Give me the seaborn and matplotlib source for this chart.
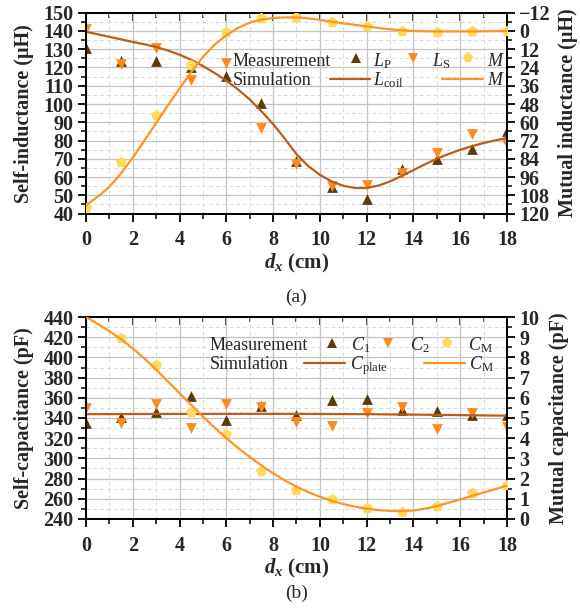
import matplotlib
matplotlib.use("Agg")
import matplotlib.pyplot as plt
from matplotlib.ticker import MultipleLocator
from matplotlib.lines import Line2D
import seaborn as sns

# ---------------- data ----------------
# measurement positions along x (cm)
dx_meas = [0, 1.5, 3, 4.5, 6, 7.5, 9, 10.5, 12, 13.5, 15, 16.5, 18]

# (a) inductances, uH
L_P = [130.5, 123.5, 123.5, 120.0, 115.3, 100.3, 69.0, 54.8, 48.0, 64.6, 69.6, 75.5, 85.0]
L_S = [140.9, 121.8, 130.8, 113.4, 122.2, 87.1, 67.4, 55.0, 55.5, 62.2, 72.9, 83.8, 78.0]
M_meas = [116.6, 85.8, 55.2, 22.2, 0.6, -8.3, -8.9, -5.9, -3.1, 0.0, 0.6, 0.0, 0.0]

# simulated curves sampled every 0.5 cm
dx_sim = [0, 0.5, 1, 1.5, 2, 2.5, 3, 3.5, 4, 4.5, 5, 5.5, 6, 6.5, 7, 7.5, 8, 8.5, 9,
          9.5, 10, 10.5, 11, 11.5, 12, 12.5, 13, 13.5, 14, 14.5, 15, 15.5, 16, 16.5,
          17, 17.5, 18]
L_coil_sim = [139.6, 138.2, 136.8, 135.4, 134.0, 132.7, 131.2, 129.3, 127.0, 124.2,
              120.8, 117.0, 112.8, 108.0, 102.5, 96.0, 89.0, 81.0, 72.5, 66.0,
              61.2, 57.6, 55.2, 54.0, 54.0, 55.3, 57.6, 60.6, 63.8, 67.0,
              70.0, 72.6, 74.9, 76.9, 78.6, 80.1, 81.4]
M_sim = [114.6, 109.0, 102.5, 93.5, 83.3, 72.0, 60.5, 49.0, 37.8, 27.0,
         17.0, 9.0, 2.8, -2.0, -5.5, -7.5, -8.5, -8.9, -8.9, -8.3,
         -7.3, -6.2, -5.0, -4.0, -3.0, -2.0, -1.1, -0.4, 0.0, 0.2,
         0.3, 0.3, 0.3, 0.3, 0.2, 0.1, 0.0]

# (b) capacitances, pF
C_1 = [335.0, 340.5, 345.5, 361.3, 338.2, 352.0, 343.1, 358.0, 359.0, 348.0, 347.0, 342.5, 343.0]
C_2 = [349.8, 335.0, 354.0, 330.0, 353.7, 350.7, 336.0, 331.6, 344.8, 350.7, 329.0, 344.8, 330.6]
dx_cm_meas = [1.5, 3, 4.5, 6, 7.5, 9, 10.5, 12, 13.5, 15, 16.5, 18]
C_M_meas = [8.96, 7.6, 5.29, 4.2, 2.38, 1.44, 0.98, 0.53, 0.33, 0.66, 1.27, 1.69]

dx_plate = [0, 3, 6, 9, 12, 15, 18]
C_plate_sim = [343.8, 344.0, 344.1, 344.1, 343.8, 343.1, 342.3]
C_M_sim = [10.0, 9.66, 9.30, 8.90, 8.44, 7.94, 7.39, 6.81, 6.23, 5.65,
           5.07, 4.52, 4.00, 3.52, 3.07, 2.65, 2.26, 1.91, 1.60, 1.33,
           1.10, 0.90, 0.74, 0.61, 0.51, 0.44, 0.40, 0.39, 0.42, 0.51,
           0.64, 0.80, 0.97, 1.14, 1.31, 1.48, 1.65]

# ---------------- style ----------------
sns.set_theme(style="white")
plt.rcParams["font.family"] = ["Liberation Serif", "DejaVu Serif"]
plt.rcParams["mathtext.fontset"] = "custom"
plt.rcParams["mathtext.rm"] = "Liberation Serif"
plt.rcParams["mathtext.it"] = "Liberation Serif:italic"
plt.rcParams["mathtext.bf"] = "Liberation Serif:bold"
plt.rcParams["mathtext.bfit"] = "Liberation Serif:italic:bold"

C_DARK = "#5C3A0C"
C_ORANGE = "#FF8A1C"
C_YELLOW = "#FFD95C"
C_LINE_BROWN = "#BF5B17"
C_LINE_ORANGE = "#FF9326"

TICK_FS = 14.5
LABEL_FS = 14.5
LEG_FS = 13

fig = plt.figure(figsize=(5.8, 6.12), dpi=100)
ax_a = fig.add_axes([0.1483, 0.6511, 0.7258, 0.3281])
ax_b = fig.add_axes([0.1483, 0.152, 0.7258, 0.330])


def style_axes(ax, axr, ymaj, ymin, rmaj, rmin):
    ax.set_xlim(0, 18)
    ax.xaxis.set_major_locator(MultipleLocator(2))
    ax.xaxis.set_minor_locator(MultipleLocator(1))
    ax.yaxis.set_major_locator(MultipleLocator(ymaj))
    ax.yaxis.set_minor_locator(MultipleLocator(ymin))
    axr.yaxis.set_major_locator(MultipleLocator(rmaj))
    axr.yaxis.set_minor_locator(MultipleLocator(rmin))
    ax.set_axisbelow(True)
    ax.grid(which="major", color="#c4c4c4", lw=0.9)
    ax.grid(which="minor", color="#dadada", lw=0.7, ls=(0, (4, 3)))
    for a in (ax, axr):
        for s in a.spines.values():
            s.set_color("black")
            s.set_linewidth(1.4)
    ax.tick_params(axis="both", which="major", direction="out", length=6, width=1.3,
                   labelsize=TICK_FS, color="black", left=True, bottom=True)
    ax.tick_params(axis="both", which="minor", direction="out", length=3.5, width=1.1,
                   color="black", left=True, bottom=True)
    ax.tick_params(axis="y", pad=3)
    ax.tick_params(axis="x", pad=6)
    axr.tick_params(axis="y", which="major", direction="out", length=6, width=1.3,
                    labelsize=TICK_FS, color="black", right=True, pad=3)
    axr.tick_params(axis="y", which="minor", direction="out", length=3.5, width=1.1,
                    color="black", right=True)
    for lab in ax.get_xticklabels() + ax.get_yticklabels() + axr.get_yticklabels():
        lab.set_fontweight("bold")
    # inward ticks along the top edge
    top = ax.secondary_xaxis("top")
    top.xaxis.set_major_locator(MultipleLocator(2))
    top.xaxis.set_minor_locator(MultipleLocator(1))
    top.tick_params(which="major", direction="in", length=6, width=1.3, labeltop=False)
    top.tick_params(which="minor", direction="in", length=3.5, width=1.1)
    top.spines["top"].set_linewidth(1.4)
    ax.set_xlabel(r"$\mathbfit{d}_{\mathbfit{x}}$ (cm)", fontsize=15, fontweight="bold", labelpad=1)


def legend_rows(ax, xs, rows):
    """Two-row key: 'Measurement' markers and 'Simulation' lines."""
    (x_txt, y_base1, y_base2, y_mark, y_line) = rows
    tr = ax.transAxes
    ax.text(x_txt, y_base1, "Measurement", transform=tr, fontsize=LEG_FS, va="baseline", ha="left")
    ax.text(x_txt, y_base2, "Simulation", transform=tr, fontsize=LEG_FS, va="baseline", ha="left")
    for kind, spec in xs:
        if kind == "marker":
            xm, marker, color, ms, xt, label = spec
            ax.add_line(Line2D([xm], [y_mark], transform=tr, marker=marker, color=color,
                               markersize=ms, markeredgewidth=0, linestyle="none", clip_on=False))
            ax.text(xt, y_base1, label, transform=tr, fontsize=LEG_FS, va="baseline", ha="left")
        else:
            x0, x1, color, xt, label = spec
            ax.add_line(Line2D([x0, x1], [y_line, y_line], transform=tr, color=color,
                               lw=1.6, clip_on=False))
            ax.text(xt, y_base2, label, transform=tr, fontsize=LEG_FS, va="baseline", ha="left")


# ---------------- (a) inductance ----------------
axr_a = ax_a.twinx()
sns.scatterplot(x=dx_meas, y=L_P, ax=ax_a, marker="^", s=60, color=C_DARK, linewidth=0, zorder=3)
sns.scatterplot(x=dx_meas, y=L_S, ax=ax_a, marker="v", s=60, color=C_ORANGE, linewidth=0, zorder=3)
sns.lineplot(x=dx_sim, y=L_coil_sim, ax=ax_a, color=C_LINE_BROWN, linewidth=1.6, zorder=4)
sns.scatterplot(x=dx_meas, y=M_meas, ax=axr_a, marker="p", s=70, color=C_YELLOW, linewidth=0, zorder=3)
sns.lineplot(x=dx_sim, y=M_sim, ax=axr_a, color=C_LINE_ORANGE, linewidth=1.6, zorder=4)
ax_a.set_ylim(40, 150)
axr_a.set_ylim(120, -12)
style_axes(ax_a, axr_a, 10, 5, 12, 6)
ax_a.set_ylabel("Self-inductance (μH)", fontsize=LABEL_FS, fontweight="bold", labelpad=7)
axr_a.set_ylabel("Mutual inductance (μH)", fontsize=LABEL_FS, fontweight="bold", labelpad=5)

legend_rows(axr_a, [
    ("marker", (0.641, "^", C_DARK, 7.5, 0.682, r"$L_\mathrm{P}$")),
    ("marker", (0.777, "v", C_ORANGE, 7.5, 0.822, r"$L_\mathrm{S}$")),
    ("marker", (0.907, "p", C_YELLOW, 8, 0.952, r"$M$")),
    ("line", (0.580, 0.675, C_LINE_BROWN, 0.682, r"$L_\mathrm{coil}$")),
    ("line", (0.846, 0.943, C_LINE_ORANGE, 0.952, r"$M$")),
], (0.349, 0.7346, 0.640, 0.773, 0.670))

# ---------------- (b) capacitance ----------------
axr_b = ax_b.twinx()
sns.scatterplot(x=dx_meas, y=C_1, ax=ax_b, marker="^", s=60, color=C_DARK, linewidth=0, zorder=3)
sns.scatterplot(x=dx_meas, y=C_2, ax=ax_b, marker="v", s=60, color=C_ORANGE, linewidth=0, zorder=3)
sns.lineplot(x=dx_plate, y=C_plate_sim, ax=ax_b, color=C_LINE_BROWN, linewidth=1.6, zorder=4)
sns.scatterplot(x=dx_cm_meas, y=C_M_meas, ax=axr_b, marker="p", s=70, color=C_YELLOW, linewidth=0, zorder=3)
sns.lineplot(x=dx_sim, y=C_M_sim, ax=axr_b, color=C_LINE_ORANGE, linewidth=1.6, zorder=4)
ax_b.set_ylim(240, 440)
axr_b.set_ylim(0, 10)
style_axes(ax_b, axr_b, 20, 10, 1, 0.5)
ax_b.set_ylabel("Self-capacitance (pF)", fontsize=LABEL_FS, fontweight="bold", labelpad=7)
axr_b.set_ylabel("Mutual capacitance (pF)", fontsize=LABEL_FS, fontweight="bold", labelpad=7)

legend_rows(axr_b, [
    ("marker", (0.584, "^", C_DARK, 7.5, 0.629, r"$C_1$")),
    ("marker", (0.718, "v", C_ORANGE, 7.5, 0.770, r"$C_2$")),
    ("marker", (0.857, "p", C_YELLOW, 8, 0.907, r"$C_\mathrm{M}$")),
    ("line", (0.518, 0.615, C_LINE_BROWN, 0.627, r"$C_\mathrm{plate}$")),
    ("line", (0.803, 0.900, C_LINE_ORANGE, 0.910, r"$C_\mathrm{M}$")),
], (0.293, 0.837, 0.743, 0.870, 0.771))

fig.text(0.511, 1 - 297 / 612, "(a)", fontsize=14, ha="center", va="center")
fig.text(0.511, 1 - 593 / 612, "(b)", fontsize=14, ha="center", va="center")

fig.savefig("out.png", dpi=100)
